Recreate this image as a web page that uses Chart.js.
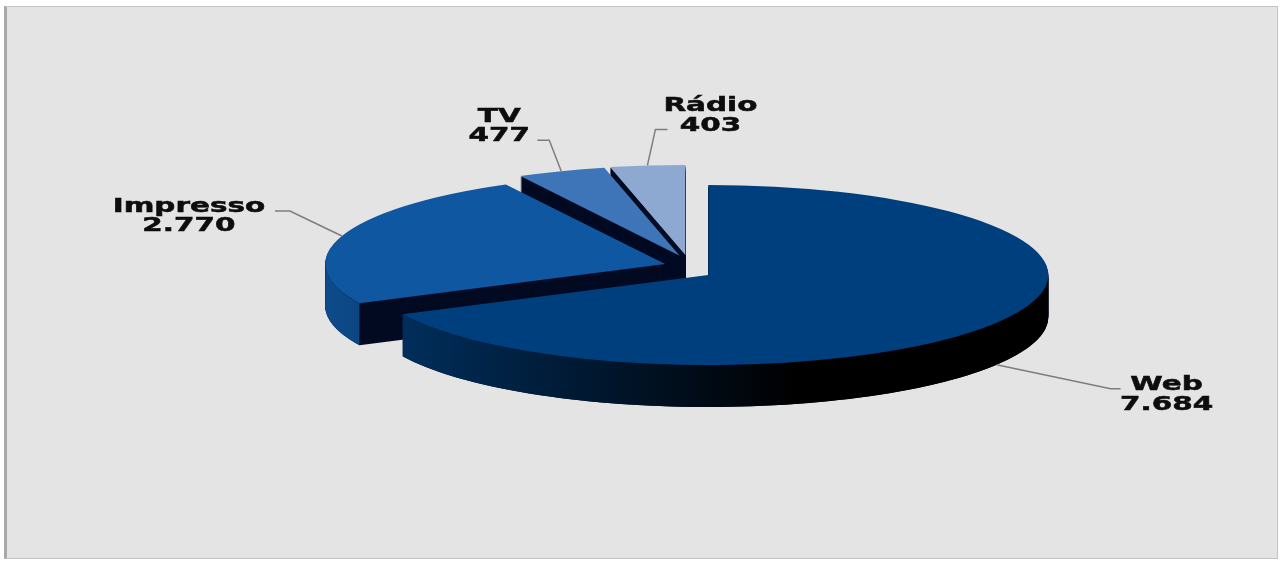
<!DOCTYPE html>
<html>
<head>
<meta charset="utf-8">
<script src="https://cdn.jsdelivr.net/npm/chart.js@4/dist/chart.umd.min.js"></script>
<style>
  html, body { margin: 0; padding: 0; background: #fff; }
  #moldura {
    position: absolute; left: 4px; top: 6px; width: 1270px; height: 551px;
    background: #e4e4e4; border: 1px solid #c4c4c4; border-left: 3px solid #a9a9a9;
  }
  #grafico { position: absolute; left: 0; top: 0; }
</style>
</head>
<body>
<div id="moldura"></div>
<canvas id="grafico" width="1280" height="561"></canvas>
<script>
// dados por mídia
const categorias = ['Web', 'Impresso', 'TV', 'Rádio'];
const valores = [7684, 2770, 477, 403];

// cores das fatias (Web, Impresso, TV, Rádio)
const cores = ['#003f7e', '#0f57a1', '#3e74b8', '#8ea9d1'];

// linhas de chamada: [cotovelo, trecho horizontal, centro do texto]
const chamadas = [
    [[114, 24], [10, 0], [46, 4.5]],
    [[-52, -25], [-15, 0], [-86, 3.5]],
    [[-12, -31], [-12, 0], [-38, -16]],
    [[8, -36], [12, 0], [43, -15.5]]
];

function formata(v) {
    return String(v).replace(/\B(?=(\d{3})+(?!\d))/g, '.');
}

function escurece(hex, f) {
    const n = parseInt(hex.slice(1), 16);
    const r = Math.round(((n >> 16) & 255) * f);
    const g = Math.round(((n >> 8) & 255) * f);
    const b = Math.round((n & 255) * f);
    return 'rgb(' + r + ',' + g + ',' + b + ')';
}

// desenha a pizza em 3D (elipse + espessura + fatias destacadas)
const pizza3d = {
    id: 'pizza3d',
    beforeDatasetsDraw(chart, args, opts) {
        const ctx = chart.ctx;
        const arcs = chart.getDatasetMeta(0).data;
        const R = arcs[0].outerRadius;
        const cx0 = arcs[0].x, cy0 = arcs[0].y;
        const sx = opts.rx / R, sy = opts.ry / R;
        const meio = a => (a.startAngle + a.endAngle) / 2;

        const centros = arcs.map(a => {
            const m = meio(a);
            return {
                x: cx0 + opts.explode * Math.cos(m),
                y: cy0 + opts.explode * Math.sin(m) * opts.explodeY
            };
        });

        // de trás para frente
        const ordem = arcs.map((a, i) => i)
            .sort((i, j) => Math.sin(meio(arcs[i])) - Math.sin(meio(arcs[j])));

        ordem.forEach(i => {
            const arc = arcs[i];
            const c = centros[i];
            const orig = arc.options;

            // bloco escuro (paredes laterais)
            arc.options = Object.assign({}, orig, { backgroundColor: opts.parede });
            for (let d = opts.depth; d > 0; d--) {
                ctx.save();
                ctx.translate(c.x, c.y + d);
                ctx.scale(sx, sy);
                ctx.translate(-cx0, -cy0);
                arc.draw(ctx);
                ctx.restore();
            }
            arc.options = orig;

            // borda externa visível (metade da frente)
            const a0 = Math.max(arc.startAngle, 0);
            const a1 = Math.min(arc.endAngle, Math.PI);
            if (a1 > a0) {
                const grad = ctx.createLinearGradient(cx0 - opts.rx - 40, 0, cx0 + opts.rx, 0);
                const cor = orig.backgroundColor;
                grad.addColorStop(0, escurece(cor, 0.9));
                grad.addColorStop(0.45, escurece(cor, 0.3));
                grad.addColorStop(0.68, '#000000');
                grad.addColorStop(1, '#000000');
                const N = 80;
                ctx.beginPath();
                for (let k = 0; k <= N; k++) {
                    const a = a0 + (a1 - a0) * k / N;
                    const x = c.x + opts.rx * Math.cos(a), y = c.y + opts.ry * Math.sin(a);
                    if (k === 0) ctx.moveTo(x, y); else ctx.lineTo(x, y);
                }
                for (let k = N; k >= 0; k--) {
                    const a = a0 + (a1 - a0) * k / N;
                    ctx.lineTo(c.x + opts.rx * Math.cos(a), c.y + opts.ry * Math.sin(a) + opts.depth);
                }
                ctx.closePath();
                ctx.fillStyle = grad;
                ctx.fill();
            }

            // face de cima
            ctx.save();
            ctx.translate(c.x, c.y);
            ctx.scale(sx, sy);
            ctx.translate(-cx0, -cy0);
            arc.draw(ctx);
            ctx.restore();
        });

        // rótulos com linhas de chamada
        const dados = chart.data.datasets[0].data;
        arcs.forEach((arc, i) => {
            const m = meio(arc);
            const c = centros[i];
            const ax = c.x + opts.rx * Math.cos(m);
            const ay = c.y + opts.ry * Math.sin(m) + (Math.sin(m) > 0 ? opts.depth : 0);
            const [p1, p2, t] = chamadas[i];
            const x1 = ax + p1[0], y1 = ay + p1[1];
            const x2 = x1 + p2[0], y2 = y1 + p2[1];

            ctx.save();
            ctx.strokeStyle = '#7d7d7d';
            ctx.lineWidth = 1.5;
            ctx.beginPath();
            ctx.moveTo(ax, ay);
            ctx.lineTo(x1, y1);
            ctx.lineTo(x2, y2);
            ctx.stroke();
            ctx.restore();

            const tx = x2 + t[0], ty = y2 + t[1];
            const linhas = [chart.data.labels[i], formata(dados[i])];
            ctx.save();
            ctx.font = 'bold 19px "DejaVu Sans"';
            ctx.fillStyle = '#0d0d0d';
            ctx.strokeStyle = '#0d0d0d';
            ctx.lineWidth = 0.5;
            ctx.textAlign = 'center';
            ctx.textBaseline = 'alphabetic';
            ctx.translate(tx, 0);
            ctx.scale(1.55, 1);
            linhas.forEach((txt, k) => {
                const y = ty + (k - 0.5) * 19.5 + 7;
                ctx.fillText(txt, 0, y);
                ctx.strokeText(txt, 0, y);
            });
            ctx.restore();
        });
        return false;
    }
};

new Chart(document.getElementById('grafico'), {
    type: 'pie',
    data: {
        labels: categorias,
        datasets: [{
            data: valores,
            backgroundColor: cores,
            borderWidth: 0
        }]
    },
    options: {
        responsive: false,
        animation: false,
        layout: {
            padding: { left: 96, right: 0, top: 0, bottom: 25 }
        },
        plugins: {
            legend: { display: false },
            tooltip: { enabled: false },
            pizza3d: {
                rx: 340,
                ry: 90,
                depth: 42,
                explode: 24,
                explodeY: 0.55,
                parede: '#020b22'
            }
        }
    },
    plugins: [pizza3d]
});
</script>
</body>
</html>
